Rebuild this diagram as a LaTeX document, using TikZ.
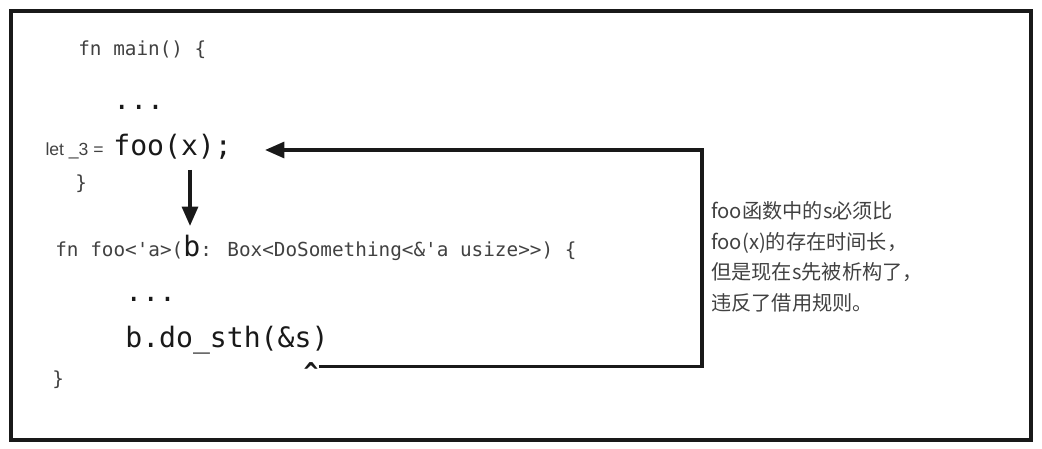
\documentclass[tikz,border=0pt]{standalone}
\usepackage{fontspec}
\usetikzlibrary{arrows.meta}
\newfontfamily\codefont{DejaVu Sans Mono}
\newfontfamily\labelfont{Liberation Sans}
\newfontfamily\cjk{Noto Sans CJK SC}
\definecolor{ink}{RGB}{25,25,25}
\definecolor{code_gray}{RGB}{65,65,65}

\begin{document}
\begin{tikzpicture}[x=0.02cm,y=-0.02cm,
	small_code/.style={anchor=base west,inner sep=0pt,text=code_gray,font=\codefont\fontsize{11pt}{13pt}\selectfont},
	big_code/.style={anchor=base west,inner sep=0pt,text=ink,font=\codefont\fontsize{16pt}{19pt}\selectfont},
	link/.style={draw=ink,line width=2pt,-{Triangle[length=11pt,width=9pt]}}]
	\path[use as bounding box] (0,0) rectangle (1042,449);
	\draw[line width=2pt,draw=ink] (11,11) rectangle (1031,440);

	% main
	\node[small_code] (main) at (78,56) {fn main() \{};
	\node[big_code] (dots1) at (113,110) {...};
	\node[anchor=base east,inner sep=0pt,text=code_gray,font=\labelfont\fontsize{10pt}{12pt}\selectfont] (let) at (104,156) {let \_3 =};
	\node[big_code] (foo) at (113,156) {foo(x);};
	\node[small_code] (close1) at (75,190) {\}};

	% foo
	\node[small_code] (sig) at (55,257) {fn foo<'a>({\color{ink}\fontsize{16pt}{19pt}\selectfont b}: Box<DoSomething<\&'a usize>{}>) \{};
	\node[big_code] (dots2) at (125,302) {...};
	\node[big_code] (call) at (125,348) {b.do\_sth(\&s)};
	\node[inner sep=0pt,text=ink,font=\codefont\bfseries\fontsize{14pt}{16pt}\selectfont] (caret) at (311,372) {\textasciicircum};
	\node[small_code] (close2) at (52,386) {\}};

	% note
	\node[anchor=north west,align=left,inner sep=0pt,text=code_gray,font=\cjk\fontsize{11.5pt}{17.5pt}\selectfont] (note) at (711,201)
		{foo函数中的s必须比\\foo(x)的存在时间长，\\但是现在s先被析构了，\\违反了借用规则。};

	\coordinate (bend) at (702,150);
	\coordinate (fooin) at (265,150);
	\coordinate (down_top) at (190,170);
	\coordinate (down_end) at (190,226);
	\draw[link] ([yshift=3pt]caret.east) -| (bend) -- (fooin);
	\draw[link] (down_top) -- (down_end);
\end{tikzpicture}
\end{document}
